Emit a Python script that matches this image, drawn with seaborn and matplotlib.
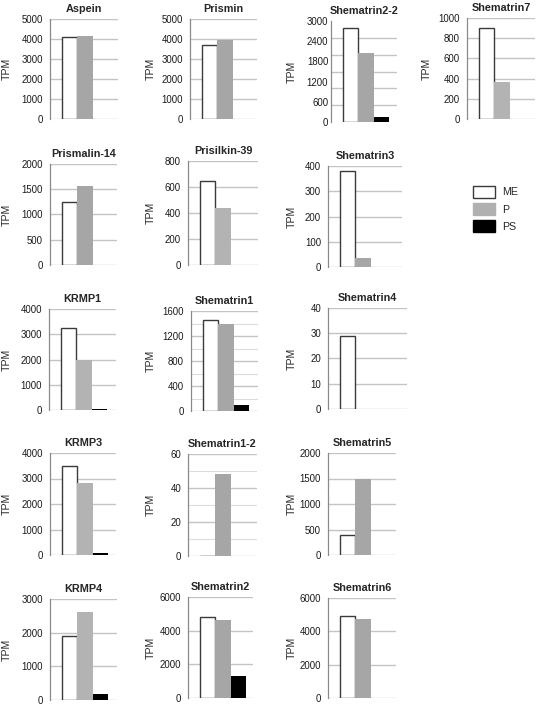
import numpy as np
import pandas as pd
import matplotlib
matplotlib.use('Agg')
import matplotlib.pyplot as plt
from matplotlib.patches import Patch
from matplotlib.ticker import MultipleLocator
from matplotlib.transforms import blended_transform_factory
import seaborn as sns

# values (TPM)
genes = ['Aspein', 'Prismin', 'Shematrin2-2', 'Shematrin7',
         'Prismalin-14', 'Prisilkin-39', 'Shematrin3',
         'KRMP1', 'Shematrin1', 'Shematrin4',
         'KRMP3', 'Shematrin1-2', 'Shematrin5',
         'KRMP4', 'Shematrin2', 'Shematrin6']
samples = ['ME', 'P', 'PS']
me_tpm = [4080, 3680, 2800, 905, 1245, 645, 380, 3230, 1450, 29, 3500, 0, 400, 1900, 4830, 4900]
p_tpm = [4150, 3970, 2050, 365, 1570, 440, 35, 2000, 1400, 0, 2830, 48, 1500, 2610, 4660, 4750]
ps_tpm = [10, 0, 140, 0, 0, 0, 0, 30, 90, 0, 90, 0, 0, 180, 1320, 0]

# y axis: max, label step, grid step
y_max = [5000, 5000, 3000, 1000, 2000, 800, 400, 4000, 1600, 40, 4000, 60, 2000, 3000, 6000, 6000]
y_label_step = [1000, 1000, 600, 200, 500, 200, 100, 1000, 400, 10, 1000, 20, 500, 1000, 2000, 2000]
y_grid_step = [1000, 1000, 500, 200, 500, 200, 100, 1000, 200, 10, 1000, 10, 500, 1000, 2000, 2000]

# panel rectangles in pixels: left, top, right, bottom
rects = {
    'Aspein': (50, 19, 118, 119), 'Prismin': (190, 19, 257, 119),
    'Shematrin2-2': (331, 21, 397, 122), 'Shematrin7': (467, 18, 535, 119),
    'Prismalin-14': (50, 164, 117, 265), 'Prisilkin-39': (188, 161, 258, 265),
    'Shematrin3': (328, 166, 402, 267),
    'KRMP1': (49, 309, 116, 410), 'Shematrin1': (191, 311, 258, 411),
    'Shematrin4': (328, 308, 407, 409),
    'KRMP3': (50, 453, 116, 555), 'Shematrin1-2': (188, 454, 257, 556),
    'Shematrin5': (328, 453, 396, 555),
    'KRMP4': (50, 599, 117, 700), 'Shematrin2': (188, 597, 253, 698),
    'Shematrin6': (328, 598, 396, 698),
}
light_p = ['Shematrin7', 'Prisilkin-39', 'KRMP1', 'KRMP3', 'KRMP4']

W, H = 537, 707
sns.set_theme(style='white')
plt.rcParams['font.family'] = ['Liberation Sans', 'DejaVu Sans']

fig = plt.figure(figsize=(W / 100, H / 100), dpi=100)
fig.patch.set_facecolor('white')

bar_px = 15.3
grid_col = '#c4c4c4'
axis_col = '#8a8a8a'

def ylabel_x(left):
    # right edge (pixels) of the rotated "TPM" label for each column
    if left < 100:
        return 12
    if left < 260:
        return 156
    if left < 420:
        return 297
    return 432

for i, g in enumerate(genes):
    l, t, r, b = rects[g]
    ax = fig.add_axes([l / W, 1 - b / H, (r - l) / W, (b - t) / H])
    df = pd.DataFrame({'sample': samples, 'TPM': [me_tpm[i], p_tpm[i], ps_tpm[i]]})
    pcol = '#b3b3b3' if g in light_p else '#a6a6a6'
    pal = {'ME': 'white', 'P': pcol, 'PS': 'black'}
    sns.barplot(data=df, x='sample', y='TPM', hue='sample', order=samples,
                hue_order=samples, palette=pal, width=1.0, saturation=1,
                legend=False, ax=ax, linewidth=0)
    for cont, s in zip(ax.containers, samples):
        for bar in cont:
            if s == 'ME':
                bar.set_edgecolor('#3a3a3a')
                bar.set_linewidth(1.0)
            else:
                bar.set_edgecolor(pal[s])
    w = r - l
    ax.set_xlim(-0.5 - 12 / bar_px, -0.5 + (w - 12) / bar_px)
    ax.set_ylim(0, y_max[i])
    ax.set_axisbelow(True)

    ax.yaxis.set_major_locator(MultipleLocator(y_label_step[i]))
    ax.yaxis.set_minor_locator(MultipleLocator(y_grid_step[i]))
    if y_grid_step[i] == y_label_step[i]:
        ax.grid(axis='y', which='major', color=grid_col, lw=1.0)
        ax.tick_params(axis='y', which='major', length=3, width=0.8, color=axis_col)
    elif y_label_step[i] % y_grid_step[i] == 0:
        ax.grid(axis='y', which='major', color=grid_col, lw=1.0)
        ax.grid(axis='y', which='minor', color='#dcdcdc', lw=0.8)
        ax.tick_params(axis='y', which='major', length=3, width=0.8, color=axis_col)
        ax.tick_params(axis='y', which='minor', length=3, width=0.6, color='#b0b0b0')
    else:
        # labels and grid on different steps
        ax.grid(axis='y', which='minor', color=grid_col, lw=1.0)
        ax.tick_params(axis='y', which='major', length=0)
        ax.tick_params(axis='y', which='minor', length=3, width=0.8, color=axis_col)
    ax.tick_params(axis='y', which='major', labelsize=6.9, pad=2, labelcolor='#1a1a1a')
    ax.tick_params(axis='x', bottom=False, labelbottom=False)
    ax.set_xlabel('')

    for sp in ['top', 'right', 'bottom']:
        ax.spines[sp].set_visible(False)
    ax.spines['left'].set_color(axis_col)
    ax.spines['left'].set_linewidth(0.9)

    ax.set_title(g, fontsize=7.8, fontweight='bold', pad=5)
    ax.set_ylabel('TPM', fontsize=7.6)
    tr = blended_transform_factory(fig.transFigure, ax.transAxes)
    ax.yaxis.set_label_coords(ylabel_x(l) / W, 0.5, transform=tr)

handles = [Patch(facecolor='white', edgecolor='#3a3a3a', lw=1.0, label='ME'),
           Patch(facecolor='#b0b0b0', edgecolor='#b0b0b0', label='P'),
           Patch(facecolor='black', edgecolor='black', label='PS')]
fig.legend(handles=handles, loc='upper left', bbox_to_anchor=(463 / W, 1 - 176 / H),
           frameon=False, fontsize=7.7, handlelength=2.1, handleheight=1.4,
           labelspacing=0.45, handletextpad=0.7)

fig.savefig('out.png', dpi=100, facecolor='white')
